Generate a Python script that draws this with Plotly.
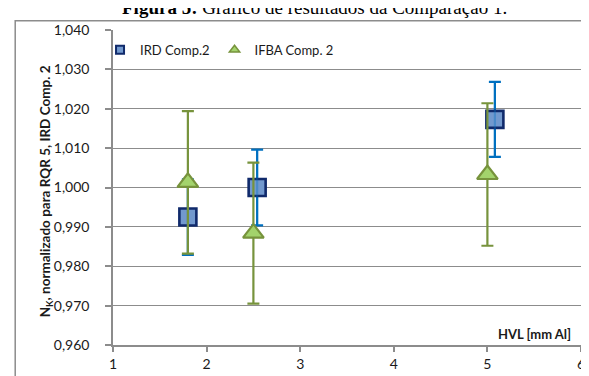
import plotly.graph_objects as go

# ---- data ----
ird_x = [1.80, 2.54, 5.08]
ird_y = [0.9925, 1.0000, 1.0173]
ird_err = [0.0096, 0.0096, 0.0095]

ifba_x = [1.80, 2.50, 5.00]
ifba_y = [1.0013, 0.9884, 1.0033]
ifba_err = [0.0181, 0.0179, 0.0181]

series_names = ["IRD Comp.2", "IFBA Comp. 2"]
x_ticks = [1, 2, 3, 4, 5, 6]
y_ticks = [0.960, 0.970, 0.980, 0.990, 1.000, 1.010, 1.020, 1.030, 1.040]

title_text = "<b>Figura 5:</b> Gráfico de resultados da Comparação 1."
y_title = "<b>N<sub>K</sub>, normalizado para RQR 5, IRD Comp. 2</b>"
x_title = "<b>HVL [mm Al]</b>"

# ---- styles ----
SQ_FILL = "#7299CE"
SQ_LINE = "#102A6B"
IRD_ERR = "#0070C0"
TR_FILL = "#A3D36C"
TR_LINE = "#77933C"
GRID = "#8C8C8C"
FONT = "Lato"

fig = go.Figure()

fig.add_trace(go.Scatter(
    x=ird_x, y=ird_y, mode="markers", showlegend=False,
    marker=dict(symbol="square", size=17, color=SQ_FILL,
                line=dict(color=SQ_LINE, width=2.6)),
    error_y=dict(type="data", array=ird_err, visible=True,
                 color=IRD_ERR, thickness=2.2, width=6),
    cliponaxis=False,
))
fig.add_trace(go.Scatter(
    x=ird_x, y=ird_y, mode="markers", showlegend=False, hoverinfo="skip",
    marker=dict(size=1, opacity=0),
    error_y=dict(type="data", array=ird_err, visible=True,
                 color="rgba(0,112,192,0.35)", thickness=2.2, width=0),
    cliponaxis=False,
))
fig.add_trace(go.Scatter(
    x=ifba_x, y=ifba_y, mode="markers", showlegend=False,
    marker=dict(symbol="triangle-up", size=18, color=TR_FILL,
                line=dict(color=TR_LINE, width=2.2)),
    error_y=dict(type="data", array=ifba_err, visible=True,
                 color=TR_LINE, thickness=2.2, width=6),
    cliponaxis=False,
))

fig.add_trace(go.Scatter(
    x=[None], y=[None], mode="markers", name=series_names[0],
    marker=dict(symbol="square", size=8, color=SQ_FILL,
                line=dict(color=SQ_LINE, width=2)),
))
fig.add_trace(go.Scatter(
    x=[None], y=[None], mode="markers", name=series_names[1],
    marker=dict(symbol="triangle-up", size=9, color=TR_FILL,
                line=dict(color=TR_LINE, width=1.5)),
))

L, R, T, B = 105, 15, 22, 29.5
W, H = 589, 376
pw, ph = W - L - R, H - T - B

fig.update_layout(
    width=W, height=H,
    margin=dict(l=L, r=R, t=T, b=B, pad=0),
    paper_bgcolor="white", plot_bgcolor="white",
    separators=",.",
    font=dict(family=FONT, size=14, color="#1A1A1A"),
    legend=dict(
        orientation="h", x=(92 - L) / pw, xanchor="left",
        y=(H - B - 42.5) / ph, yanchor="middle",
        font=dict(family=FONT, size=13, color="#1A1A1A"),
        bgcolor="rgba(0,0,0,0)", itemwidth=30, tracegroupgap=0,
    ),
    xaxis=dict(
        range=[1, 6], tickvals=x_ticks, ticktext=[str(v) for v in x_ticks],
        showgrid=False, zeroline=False,
        showline=True, linecolor=GRID, linewidth=1.5,
        ticks="outside", ticklen=5, tickcolor=GRID, tickwidth=1.5,
        tickfont=dict(family=FONT, size=14, color="#1A1A1A"),
    ),
    yaxis=dict(
        range=[0.960, 1.040], tickvals=y_ticks, tickformat=".3f",
        showgrid=True, gridcolor=GRID, gridwidth=1.3, zeroline=False,
        showline=True, linecolor=GRID, linewidth=1.5,
        ticks="outside", ticklen=6, tickcolor=GRID, tickwidth=1.5,
        ticklabelstandoff=13,
        tickfont=dict(family=FONT, size=14, color="#1A1A1A"),
    ),
    annotations=[
        dict(text=title_text, xref="paper", yref="paper",
             x=(306.5 - L) / pw, y=1 + (T + 1.5) / ph,
             xanchor="center", yanchor="middle", showarrow=False,
             font=dict(family="Liberation Serif", size=19, color="black")),
        dict(text=x_title, xref="paper", yref="paper",
             x=(566 - L) / pw, y=(H - B - 335) / ph,
             xanchor="right", yanchor="middle", showarrow=False,
             font=dict(family=FONT, size=13, color="#1A1A1A")),
        dict(text=y_title, xref="paper", yref="paper",
             x=(38 - L) / pw, y=(H - B - 188) / ph, textangle=-90,
             xanchor="center", yanchor="middle", showarrow=False,
             font=dict(family=FONT, size=13.5, color="#1A1A1A")),
    ],
    shapes=[
        dict(type="rect", xref="paper", yref="paper", layer="below",
             x0=(7 - L) / pw, x1=(600 - L) / pw,
             y0=-0.5, y1=1 + (T - 12.5) / ph,
             line=dict(color=GRID, width=1.5), fillcolor="rgba(0,0,0,0)"),
    ],
)

fig.write_html("out.html")
